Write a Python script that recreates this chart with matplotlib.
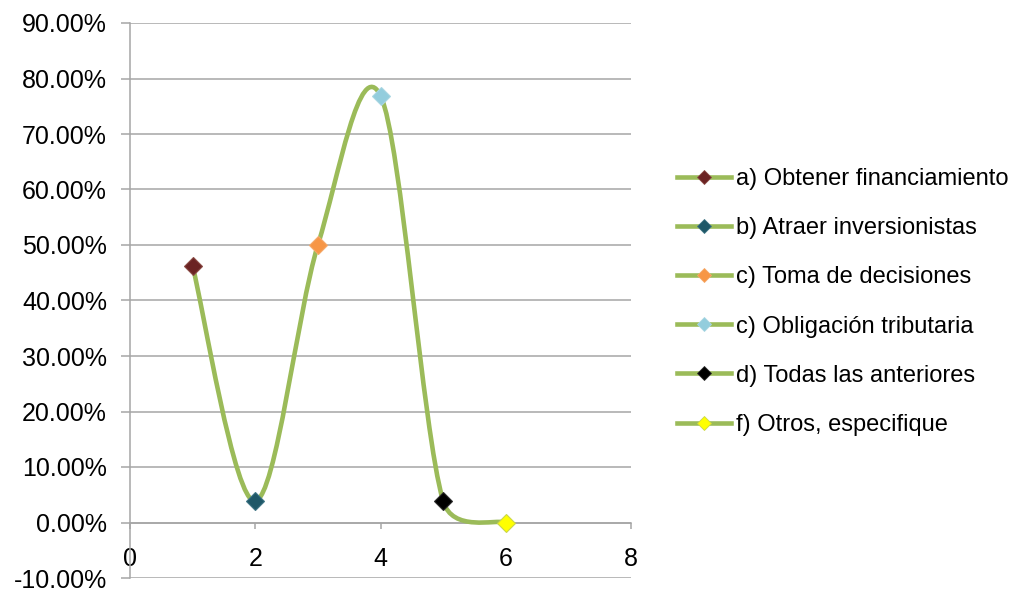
import numpy as np
import matplotlib
matplotlib.use("Agg")
import matplotlib.pyplot as plt
from matplotlib.path import Path
from matplotlib.patches import PathPatch
from matplotlib.lines import Line2D
from matplotlib.ticker import FuncFormatter, MultipleLocator

# Responses per option (share of respondents)
categories = [
    "a) Obtener financiamiento",
    "b) Atraer inversionistas",
    "c) Toma de decisiones",
    "c) Obligación tributaria",
    "d) Todas las anteriores",
    "f) Otros, especifique",
]
x_values = [1, 2, 3, 4, 5, 6]
shares = [0.4615, 0.0385, 0.50, 0.7692, 0.0385, 0.0]
point_colors = ["#6B2323", "#1F5868", "#F79646", "#93CDDD", "#000000", "#FFFF00"]
edge_colors = ["#8A4A44", "#3E7484", "#F4A96A", "#A9D6E2", "#2A2A2A", "#C9D64A"]

line_color = "#9BBB59"
grid_color = "#A6A6A6"

fig = plt.figure(figsize=(10.21, 5.90), dpi=100)
ax = fig.add_axes([130 / 1021, 1 - 578 / 590, 501 / 1021, 555 / 590])
ax.set_xlim(0, 8)
ax.set_ylim(-0.10, 0.90)


def smooth_path(xs, ys, axes):
    """Bezier smoothing in screen space; control arms are capped at half
    the segment length so the curve does not overshoot short segments."""
    to_disp = axes.transData
    pts = to_disp.transform(np.column_stack([xs, ys]).astype(float))
    ext = np.vstack([pts[0], pts, pts[-1]])
    verts = [pts[0]]
    codes = [Path.MOVETO]
    for i in range(len(pts) - 1):
        p0, p1, p2, p3 = ext[i], ext[i + 1], ext[i + 2], ext[i + 3]
        d12 = np.hypot(*(p2 - p1))
        d02 = np.hypot(*(p2 - p0))
        d13 = np.hypot(*(p3 - p1))
        f1 = 1 / 6 if d02 / 6 < d12 / 2 else (d12 / d02 / 2 if d02 > 0 else 0)
        f2 = 1 / 6 if d13 / 6 < d12 / 2 else (d12 / d13 / 2 if d13 > 0 else 0)
        c1 = p1 + f1 * (p2 - p0)
        c2 = p2 - f2 * (p3 - p1)
        verts += [c1, c2, p2]
        codes += [Path.CURVE4] * 3
    data_verts = to_disp.inverted().transform(np.array(verts))
    return Path(data_verts, codes)


curve = PathPatch(smooth_path(x_values, shares, ax), fill=False, edgecolor=line_color,
                  linewidth=3.3, capstyle="round", joinstyle="round", zorder=3)
ax.add_patch(curve)

for xv, yv, fc, ec in zip(x_values, shares, point_colors, edge_colors):
    ax.plot([xv], [yv], linestyle="none", marker="D", markersize=9.5,
            markerfacecolor=fc, markeredgecolor=ec, markeredgewidth=0.8, zorder=4)

ax.xaxis.set_major_locator(MultipleLocator(2))
ax.yaxis.set_major_locator(MultipleLocator(0.10))
ax.yaxis.set_major_formatter(FuncFormatter(lambda v, _: f"{v * 100:.2f}%"))

ax.grid(axis="y", color=grid_color, linewidth=1.1)
ax.set_axisbelow(True)
for side in ("top", "right"):
    ax.spines[side].set_visible(False)
ax.spines["left"].set_color(grid_color)
ax.spines["left"].set_linewidth(1.1)
ax.spines["bottom"].set_position(("data", 0))
ax.spines["bottom"].set_color(grid_color)
ax.spines["bottom"].set_linewidth(1.1)

tick_font = ["Liberation Sans", "DejaVu Sans"]
ax.tick_params(axis="y", length=6.5, width=1.1, color=grid_color, pad=10, labelsize=18)
ax.tick_params(axis="x", length=4, width=1.1, color=grid_color, pad=14, labelsize=18)
for lbl in ax.get_xticklabels() + ax.get_yticklabels():
    lbl.set_fontfamily(tick_font)
    lbl.set_color("#000000")

handles = [
    Line2D([0], [0], color=line_color, linewidth=3.3, marker="D", markersize=7,
           markerfacecolor=fc, markeredgecolor=ec, markeredgewidth=0.6)
    for fc, ec in zip(point_colors, edge_colors)
]
leg = fig.legend(handles, categories, loc="center left",
                 bbox_to_anchor=(677 / 1021, 1 - 302 / 590),
                 frameon=False, handlelength=2.3, handletextpad=0.2,
                 labelspacing=1.15, borderaxespad=0, borderpad=0,
                 prop={"family": ["Liberation Sans", "DejaVu Sans"], "size": 17})

fig.savefig("out.png", dpi=100)
